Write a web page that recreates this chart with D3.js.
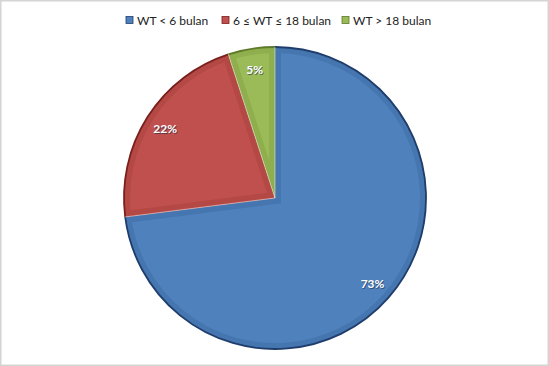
<!DOCTYPE html>
<html><head><meta charset="utf-8">
<script src="https://cdn.jsdelivr.net/npm/d3@7"></script>
<style>html,body{margin:0;padding:0;background:#fff;}svg{display:block;}</style>
</head><body>
<svg id="c" width="549" height="366"></svg>
<script>
const categories = ["WT < 6 bulan", "6 \u2264 WT \u2264 18 bulan", "WT > 18 bulan"];
const values = [73, 22, 5];
const labels = ["73%", "22%", "5%"];
const colors = ["#4F81BD", "#C0504D", "#9BBB59"];
const darks = ["#1F3D6B", "#7A1F1C", "#5E7A2A"];
const bevels = ["#4576B0", "#B34845", "#8FAE4E"];

const svg = d3.select("#c");
svg.append("rect").attr("x",0.75).attr("y",0.75).attr("width",547.5).attr("height",364.5)
  .attr("fill","#fff").attr("stroke","#d4d4d4").attr("stroke-width",1.5);

const cx = 275, cy = 198, r = 151;
const pie = d3.pie().sort(null).value(d=>d)(values);
const arc = d3.arc().innerRadius(0).outerRadius(r);
const outer = d3.arc().innerRadius(r).outerRadius(r);
const g = svg.append("g").attr("transform",`translate(${cx},${cy})`);
const defs = svg.append("defs");

pie.forEach((p,i)=>{
  defs.append("clipPath").attr("id","clip"+i).append("path").attr("d",arc(p));
  g.append("path").attr("d",arc(p)).attr("fill",colors[i]);
  g.append("path").attr("d",arc(p)).attr("fill","none").attr("stroke",bevels[i])
    .attr("stroke-width",12).attr("clip-path",`url(#clip${i})`);
  g.append("path").attr("d",outer(p)).attr("fill","none").attr("stroke",darks[i]).attr("stroke-width",1.8);
});
pie.forEach((p)=>{
  const a = p.startAngle;
  g.append("line").attr("x1",0).attr("y1",0).attr("x2",r*Math.sin(a)).attr("y2",-r*Math.cos(a))
    .attr("stroke","#ffffff").attr("stroke-opacity",0.6).attr("stroke-width",0.8);
});

const lab = d3.arc().innerRadius(130).outerRadius(130);
pie.forEach((p,i)=>{
  const [x,y] = lab.centroid(p);
  g.append("text").attr("x",x+0.8).attr("y",y+0.8).attr("text-anchor","middle").attr("dominant-baseline","central")
    .attr("font-family","Lato, 'Open Sans', sans-serif").attr("font-weight","bold").attr("font-size",12)
    .attr("fill","#1a2a40").attr("opacity",0.6).text(labels[i]);
  g.append("text").attr("x",x).attr("y",y).attr("text-anchor","middle").attr("dominant-baseline","central")
    .attr("font-family","Lato, 'Open Sans', sans-serif").attr("font-weight","bold").attr("font-size",12)
    .attr("fill","#ffffff").text(labels[i]);
});

const legX = [126, 222, 342];
const leg = svg.append("g");
categories.forEach((c,i)=>{
  leg.append("rect").attr("x",legX[i]).attr("y",16.5).attr("width",7).attr("height",7)
    .attr("fill",colors[i]).attr("stroke",darks[i]).attr("stroke-width",0.8);
  leg.append("text").attr("x",legX[i]+11).attr("y",20.5).attr("dominant-baseline","central")
    .attr("font-family","Lato, 'Open Sans', sans-serif").attr("font-size",12).attr("fill","#222").text(c);
});
</script>
</body></html>
